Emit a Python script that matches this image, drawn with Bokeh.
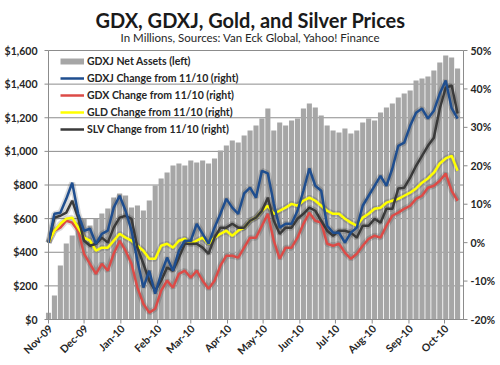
import pandas as pd
from bokeh.plotting import figure
from bokeh.models import Range1d, Legend, LegendItem, ColumnDataSource
from bokeh.embed import file_html
from bokeh.resources import INLINE

# ---- data (sampled every 5 days from 11/10/2009) ----
dates = pd.date_range("2009-11-10", periods=70, freq="5D")

gdxj_assets = [40, 143, 321, 452, 500, 577, 600, 559, 600, 630,
               660, 726, 750, 738, 666, 678, 648, 708, 797, 839,
               874, 916, 928, 916, 946, 934, 946, 928, 958, 1005,
               1035, 1065, 1053, 1094, 1124, 1154, 1196, 1255, 1124, 1172,
               1154, 1184, 1196, 1255, 1285, 1261, 1213, 1154, 1124, 1112,
               1136, 1106, 1124, 1172, 1196, 1184, 1231, 1261, 1285, 1320,
               1344, 1362, 1422, 1433, 1445, 1481, 1529, 1570, 1558, 1493]

gdxj_chg = [0, 7.5, 7.8, 11.4, 15.6, 7.5, 3.1, 3.6, -0.3, 2.3,
            3.1, 9.1, 12.2, 8.3, 3.1, -4.7, -11.7, -7.3, -13.3, -8.1,
            -3.9, -7.3, -2.1, 0.5, 0.5, 4.9, 2.3, -0.3, 3.9, 7.5,
            11.4, 9.1, 7.5, 12.8, 14.3, 11.7, 18.7, 18.0, 10.1, 3.9,
            4.9, 4.9, 8.3, 13.5, 19.3, 14.8, 13.5, 4.4, 2.6, 2.6,
            0.0, 2.6, 3.9, 9.6, 12.2, 14.8, 17.4, 14.8, 19.3, 25.2,
            26.0, 30.4, 33.8, 34.9, 32.3, 34.3, 38.8, 42.2, 35.0, 32.3]

gdx_chg = [0, 3.1, 3.9, 5.7, 5.2, 3.1, -2.9, -5.5, -8.1, -5.5,
           -7.3, -2.9, 0.5, -2.1, -5.5, -11.7, -15.9, -18.2, -17.2, -12.5,
           -9.9, -11.7, -8.1, -7.3, -9.1, -7.3, -9.9, -12.0, -9.9, -6.0,
           -3.4, -3.4, -3.9, -1.3, 1.3, 1.3, 4.4, 7.5, 0.5, -4.2,
           -1.3, -1.3, 1.3, 4.9, 7.8, 5.7, 5.2, -0.3, -0.8, -0.3,
           -2.6, -4.2, -2.9, -0.8, 1.0, 1.8, 1.3, 4.4, 7.0, 7.8,
           8.8, 9.6, 11.4, 12.2, 14.3, 14.8, 16.1, 18.0, 13.5, 10.9]

gld_chg = [0, 3.1, 4.9, 6.2, 6.5, 3.9, 1.3, 0.5, -2.1, -1.3,
           -1.3, 0.5, 2.3, 1.3, 0.5, -0.8, -2.1, -4.2, -4.2, -0.8,
           -0.3, -1.3, 0.5, 1.0, -0.3, 0.5, 1.3, -0.3, 1.3, 2.3,
           3.1, 1.8, 3.1, 3.9, 5.7, 6.5, 8.3, 9.6, 7.5, 8.3,
           9.1, 10.1, 9.6, 10.9, 11.7, 10.9, 9.6, 8.3, 7.5, 7.5,
           6.2, 5.2, 4.4, 6.5, 7.5, 8.8, 9.1, 10.4, 10.9, 11.4,
           12.2, 13.0, 14.1, 15.6, 16.7, 18.2, 20.6, 21.9, 22.6, 18.7]

slv_chg = [0, 6.5, 7.0, 7.8, 10.9, 6.5, 0.5, -0.8, -0.3, 1.3,
           0.0, 3.9, 6.5, 7.0, 6.2, -1.3, -5.5, -9.9, -12.5, -9.9,
           -6.5, -7.3, -3.9, -0.3, -0.3, -0.3, -1.3, -2.9, 1.3, 3.9,
           3.9, 4.9, 3.9, 3.9, 5.7, 6.5, 8.3, 11.7, 5.7, 2.3,
           3.9, 3.9, 6.2, 7.5, 9.1, 8.3, 5.7, 3.1, 1.8, 3.1,
           3.1, 2.6, 1.3, 4.4, 4.4, 6.2, 5.2, 8.8, 8.8, 14.1,
           14.3, 16.9, 20.0, 22.6, 25.2, 27.3, 34.9, 40.3, 40.9, 33.6]

tick_dates = ["2009-11-10", "2009-12-10", "2010-01-10", "2010-02-10", "2010-03-10",
              "2010-04-10", "2010-05-10", "2010-06-10", "2010-07-10", "2010-08-10",
              "2010-09-10", "2010-10-10"]
tick_labels = ["Nov-09", "Dec-09", "Jan-10", "Feb-10", "Mar-10", "Apr-10",
               "May-10", "Jun-10", "Jul-10", "Aug-10", "Sep-10", "Oct-10"]
left_ticks = [0, 200, 400, 600, 800, 1000, 1200, 1400, 1600]
left_labels = ["$0", "$200", "$400", "$600", "$800", "$1,000", "$1,200", "$1,400", "$1,600"]
right_ticks = [-20, -10, 0, 10, 20, 30, 40, 50]
right_labels = ["-20%", "-10%", "0%", "10%", "20%", "30%", "40%", "50%"]

title_text = "GDX, GDXJ, Gold, and Silver Prices"
subtitle_text = "In Millions, Sources: Van Eck Global, Yahoo! Finance"

FONT = {"value": "Lato"}
TXT = "#262626"
AX = "#8c8c8c"

# ---- layout in pixels: the frame covers the whole canvas ----
W, H = 500, 365
PL, PR, PT, PB = 48, 463, 50, 319       # plot-area edges
L_MIN, L_MAX = 0, 1600
R_MIN, R_MAX = -20, 50
l_per_px = (L_MAX - L_MIN) / (PB - PT)
r_per_px = (R_MAX - R_MIN) / (PB - PT)

x_start = pd.Timestamp("2009-11-10")
x_end = pd.Timestamp("2010-10-26")
t_per_px = (x_end - x_start) / (PR - PL)

def px_x(px):
    return x_start + (px - PL) * t_per_px

def px_y(py):
    return L_MIN + (PB - py) * l_per_px

src = ColumnDataSource(dict(d=dates, assets=gdxj_assets, gdxj=gdxj_chg, gdx=gdx_chg,
                            gld=gld_chg, slv=slv_chg))

p = figure(width=W, height=H, x_axis_type="datetime", output_backend="svg",
           toolbar_location=None, title=None, x_axis_location=None, y_axis_location=None,
           x_range=Range1d(px_x(0), px_x(W)),
           y_range=Range1d(px_y(H), px_y(0)),
           min_border_left=0, min_border_right=0, min_border_bottom=0, min_border_top=0)
p.extra_y_ranges = {"pct": Range1d(R_MIN - (H - PB) * r_per_px, R_MAX + PT * r_per_px)}
p.outline_line_color = None
p.background_fill_color = "white"
p.border_fill_color = "white"
p.grid.visible = False

# gridlines (under the bars)
lsrc = ColumnDataSource(dict(v=left_ticks, lab=left_labels))
rsrc = ColumnDataSource(dict(v=right_ticks, lab=right_labels))
p.segment(x0=x_start, y0="v", x1=x_end, y1="v", source=lsrc, line_color=AX, line_width=1)

# bars
p.vbar(x="d", top="assets", bottom=0, width=4.3 * 86400000, source=src,
       fill_color="#a6a6a6", line_color=None)

# line shadows
for col in ["gdxj", "gdx", "gld", "slv"]:
    p.line(x="d", y=col, source=src, y_range_name="pct", line_color="#000000",
           line_alpha=0.14, line_width=6)

r_gdx = p.line(x="d", y="gdx", source=src, y_range_name="pct", line_color="#dc4b47", line_width=2.5)
r_gld = p.line(x="d", y="gld", source=src, y_range_name="pct", line_color="#ffff00", line_width=2.5)
r_slv = p.line(x="d", y="slv", source=src, y_range_name="pct", line_color="#3a3a3a", line_width=2.5)
r_gdxj = p.line(x="d", y="gdxj", source=src, y_range_name="pct", line_color="#1f4e8f", line_width=2.5)

# axis lines
p.segment(x0=[x_start, x_end, x_start], y0=[L_MIN, L_MIN, L_MIN],
          x1=[x_start, x_end, x_end], y1=[L_MAX, L_MAX, L_MIN], line_color=AX, line_width=1)
# tick marks
p.segment(x0=x_start - 4 * t_per_px, y0="v", x1=x_start, y1="v", source=lsrc,
          line_color=AX, line_width=1)
p.segment(x0=x_end, y0="v", x1=x_end + 4 * t_per_px, y1="v", source=rsrc,
          y_range_name="pct", line_color=AX, line_width=1)
tsrc = ColumnDataSource(dict(t=[pd.Timestamp(t) for t in tick_dates], lab=tick_labels))
p.segment(x0="t", y0=L_MIN, x1="t", y1=L_MIN - 4 * l_per_px, source=tsrc,
          line_color=AX, line_width=1)

# tick labels
p.text(x=x_start, y="v", text="lab", source=lsrc, x_offset=-11, text_align="right",
       text_baseline="middle", text_font=FONT, text_font_size="10.5px",
       text_font_style="bold", text_color=TXT)
p.text(x=x_end, y="v", text="lab", source=rsrc, y_range_name="pct", x_offset=7,
       text_align="left", text_baseline="middle", text_font=FONT, text_font_size="10.5px",
       text_font_style="bold", text_color=TXT)
p.text(x="t", y=L_MIN, text="lab", source=tsrc, angle=45, angle_units="deg",
       x_offset=2, y_offset=7, text_align="right", text_baseline="middle",
       text_font=FONT, text_font_size="10.5px", text_font_style="bold", text_color=TXT)

# titles
p.text(x=[px_x(W / 2)], y=[px_y(19)], text=[title_text], text_align="center",
       text_baseline="alphabetic", text_font=FONT, text_font_size="20px",
       text_font_style="bold", text_color="#1a1a1a")
p.text(x=[px_x(W / 2)], y=[px_y(37)], text=[subtitle_text], text_align="center",
       text_baseline="alphabetic", text_font=FONT, text_font_size="11.5px",
       text_font_style="normal", text_color=TXT)

# legend proxy for the bars (drawn out of view)
r_bar_leg = p.line(x=[x_start, x_end], y=[-5000, -5000], line_color="#a6a6a6", line_width=6)

legend = Legend(items=[
    LegendItem(label="GDXJ Net Assets (left)", renderers=[r_bar_leg]),
    LegendItem(label="GDXJ Change from 11/10 (right)", renderers=[r_gdxj]),
    LegendItem(label="GDX Change from 11/10 (right)", renderers=[r_gdx]),
    LegendItem(label="GLD Change from 11/10 (right)", renderers=[r_gld]),
    LegendItem(label="SLV Change from 11/10 (right)", renderers=[r_slv]),
], location=(PL + 10, H - 52 - 86), margin=0, padding=2, spacing=3,
    glyph_width=24, glyph_height=14, label_height=14, label_standoff=3,
    label_text_font="Lato", label_text_font_size="10.5px", label_text_font_style="bold",
    label_text_color=TXT, background_fill_alpha=0, border_line_alpha=0)
p.add_layout(legend, "center")

open("out.html", "w").write(file_html(p, INLINE))
